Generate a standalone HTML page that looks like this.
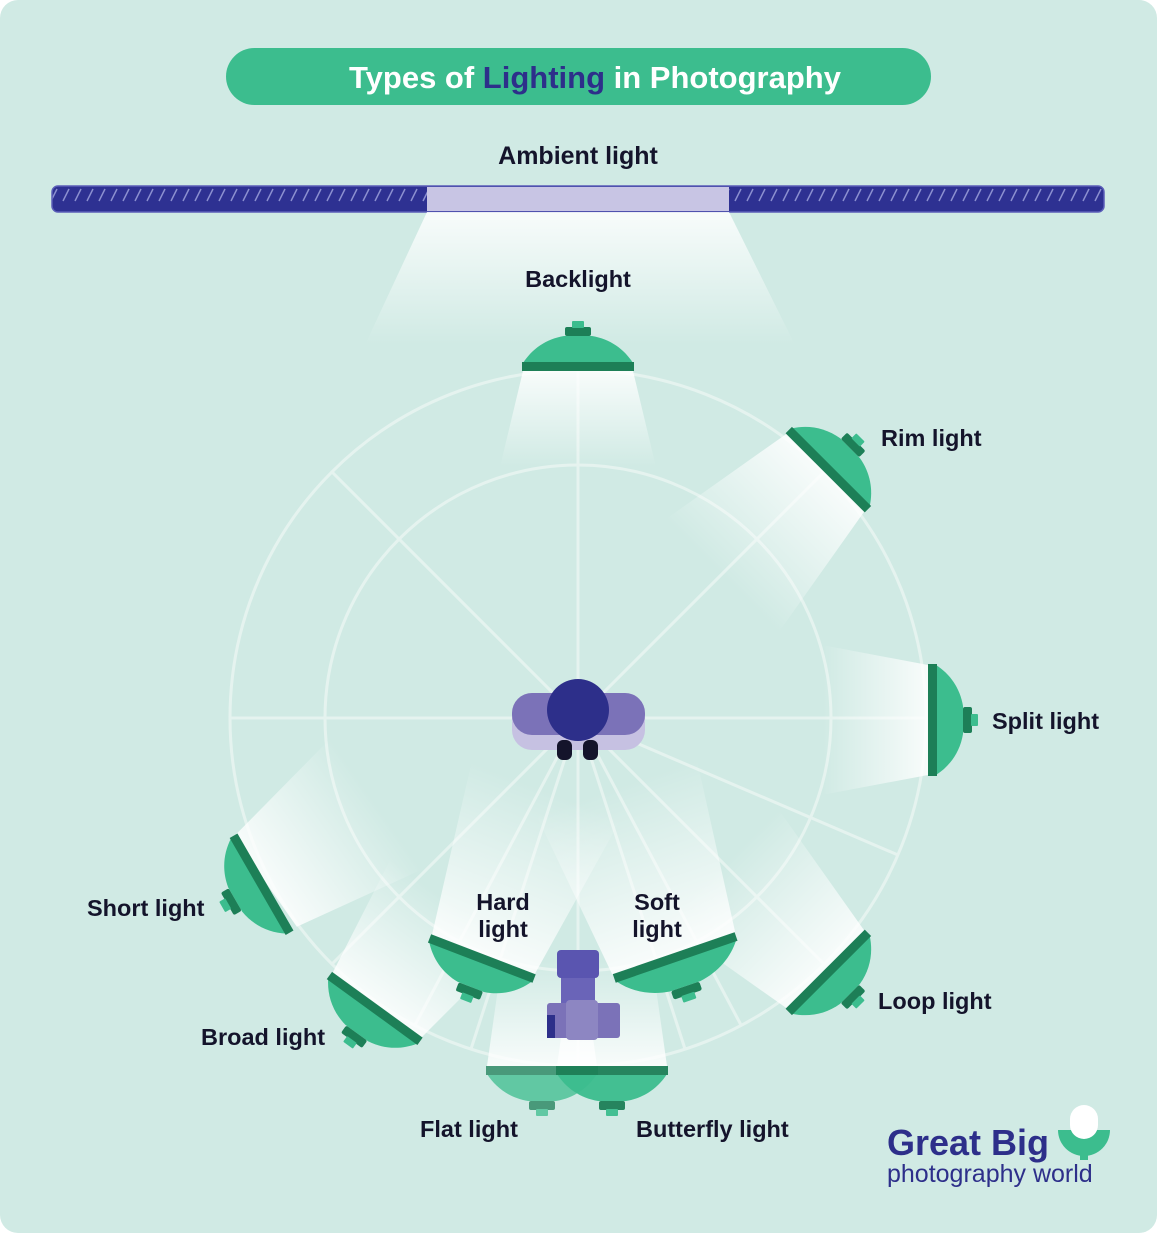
<!DOCTYPE html>
<html><head><meta charset="utf-8"><style>
html,body{margin:0;padding:0;background:#fff;}
svg{display:block;font-family:"Liberation Sans",sans-serif;}
</style></head><body>
<svg width="1157" height="1233" viewBox="0 0 1157 1233" xmlns="http://www.w3.org/2000/svg">
<defs>
<linearGradient id="beam" x1="0" y1="0" x2="0" y2="1">
<stop offset="0" stop-color="#ffffff" stop-opacity="0.85"/>
<stop offset="1" stop-color="#ffffff" stop-opacity="0"/>
</linearGradient>
<pattern id="hatch" width="12" height="26" patternUnits="userSpaceOnUse">
<rect width="12" height="26" fill="#2e3192"/>
<line x1="3" y1="19" x2="9" y2="7" stroke="#8b8fd0" stroke-width="1.5"/>
</pattern>
<g id="lamp">
<path d="M-55,-4 C-46,-18 -32,-28 -14,-31 L14,-31 C32,-28 46,-18 55,-4 Z" fill="#3cbd8e"/>
<rect x="-56" y="-5" width="112" height="9" fill="#1d7f57"/>
<rect x="-13" y="-40" width="26" height="9" rx="2" fill="#1d7f57"/>
<rect x="-6" y="-46" width="12" height="7" rx="1" fill="#3cbd8e"/>
</g>
</defs>
<rect x="0" y="0" width="1157" height="1233" rx="18" fill="#d0eae4"/>
<rect x="226" y="48" width="705" height="57" rx="28.5" fill="#3cbd8e"/>
<text x="595" y="88" text-anchor="middle" font-size="31" font-weight="bold" fill="#fff">Types of <tspan fill="#2d2f8a">Lighting</tspan> in Photography</text>
<text x="578" y="164" text-anchor="middle" font-size="25" font-weight="bold" fill="#14142b">Ambient light</text>
<rect x="52" y="186" width="1052" height="26" rx="6" fill="url(#hatch)" stroke="#5a5db8" stroke-width="1.5"/>
<rect x="427" y="187" width="302" height="24" fill="#c8c5e4"/>
<polygon points="427,212 729,212 795,345 365,345" fill="url(#beam)"/>
<g stroke="#e8f5f1" stroke-width="3" fill="none" opacity="0.9">
<circle cx="578" cy="718" r="348"/>
<circle cx="578" cy="718" r="253"/>
<g transform="translate(578,718)">
<line x1="0" y1="0" x2="348" y2="0"/>
<line x1="0" y1="0" x2="-348" y2="0"/>
<line x1="0" y1="0" x2="0" y2="-348"/>
<line x1="0" y1="0" x2="0" y2="348"/>
<line x1="0" y1="0" x2="246" y2="-246"/>
<line x1="0" y1="0" x2="-246" y2="-246"/>
<line x1="0" y1="0" x2="320" y2="137"/>
<line x1="0" y1="0" x2="246" y2="246"/>
<line x1="0" y1="0" x2="163" y2="307"/>
<line x1="0" y1="0" x2="107" y2="331"/>
<line x1="0" y1="0" x2="-107" y2="331"/>
<line x1="0" y1="0" x2="-163" y2="307"/>
<line x1="0" y1="0" x2="-246" y2="246"/>
</g>
</g>
<g>
<g transform="translate(578,367) rotate(0)"><polygon points="-55,4 55,4 78,100 -78,100" fill="url(#beam)"/></g>
<g transform="translate(828,470) rotate(45)"><polygon points="-55,4 55,4 80,150 -80,150" fill="url(#beam)"/></g>
<g transform="translate(932,720) rotate(90)"><polygon points="-55,4 55,4 75,110 -75,110" fill="url(#beam)"/></g>
<g transform="translate(828,972) rotate(135)"><polygon points="-55,4 55,4 80,150 -80,150" fill="url(#beam)"/></g>
<g transform="translate(262,884) rotate(-125)"><polygon points="-55,4 55,4 80,140 -80,140" fill="url(#beam)"/></g>
<g transform="translate(375,1008) rotate(-144)"><polygon points="-55,4 55,4 75,130 -75,130" fill="url(#beam)"/></g>
<g transform="translate(482,958) rotate(-159)"><polygon points="-55,4 55,4 80,180 -80,180" fill="url(#beam)"/></g>
<g transform="translate(675,957) rotate(161)"><polygon points="-65,4 65,4 85,180 -85,180" fill="url(#beam)"/></g>
<g transform="translate(612,1070) rotate(180)"><polygon points="-55,4 55,4 40,110 -40,110" fill="url(#beam)"/></g>
<g transform="translate(542,1070) rotate(180)"><polygon points="-55,4 55,4 40,110 -40,110" fill="url(#beam)"/></g>
</g>
<rect x="512" y="693" width="133" height="57" rx="20" fill="#c6c1e2"/>
<rect x="512" y="693" width="133" height="42" rx="20" fill="#7b72b8"/>
<rect x="557" y="740" width="15" height="20" rx="6" fill="#14142b"/>
<rect x="583" y="740" width="15" height="20" rx="6" fill="#14142b"/>
<path d="M550,722 A31,31 0 0 0 606,722 Z" fill="#fff"/>
<circle cx="578" cy="710" r="31" fill="#2d2f8a"/>
<rect x="557" y="950" width="42" height="28" rx="4" fill="#5a55b0"/>
<rect x="561" y="978" width="34" height="26" fill="#6a64b8"/>
<rect x="547" y="1003" width="73" height="35" rx="3" fill="#7b72b8"/>
<rect x="566" y="1000" width="32" height="40" rx="4" fill="#8d86c2"/>
<rect x="547" y="1015" width="8" height="23" fill="#2d2f8a"/>
<use href="#lamp" transform="translate(578,367)"/>
<use href="#lamp" transform="translate(828,470) rotate(45)"/>
<use href="#lamp" transform="translate(932,720) rotate(90)"/>
<use href="#lamp" transform="translate(828,972) rotate(135)"/>
<use href="#lamp" transform="translate(262,884) rotate(-120)"/>
<use href="#lamp" transform="translate(375,1008) rotate(-144)"/>
<use href="#lamp" transform="translate(482,958) rotate(-159)"/>
<use href="#lamp" transform="translate(675,957) rotate(161) scale(1.15,1)"/>
<use href="#lamp" transform="translate(542,1070) rotate(180)" opacity="0.75"/>
<use href="#lamp" transform="translate(612,1070) rotate(180)" opacity="0.95"/>
<g font-size="23.5" font-weight="bold" fill="#14142b">
<text x="578" y="287" text-anchor="middle">Backlight</text>
<text x="881" y="446">Rim light</text>
<text x="992" y="729">Split light</text>
<text x="878" y="1009">Loop light</text>
<text x="87" y="916">Short light</text>
<text x="201" y="1045">Broad light</text>
<text x="503" y="910" text-anchor="middle">Hard</text>
<text x="503" y="937" text-anchor="middle">light</text>
<text x="657" y="910" text-anchor="middle">Soft</text>
<text x="657" y="937" text-anchor="middle">light</text>
<text x="420" y="1137">Flat light</text>
<text x="636" y="1137">Butterfly light</text>
</g>
<text x="887" y="1155" font-size="36" font-weight="bold" fill="#2d2f8a">Great Big</text>
<text x="887" y="1182" font-size="25" fill="#2d2f8a">photography world</text>
<path d="M1058,1130 A26,26 0 0 0 1110,1130 Z" fill="#3cbd8e"/>
<rect x="1070" y="1105" width="28" height="34" rx="14" fill="#fff"/>
<rect x="1080" y="1148" width="8" height="12" fill="#3cbd8e"/>
</svg>
</body></html>
